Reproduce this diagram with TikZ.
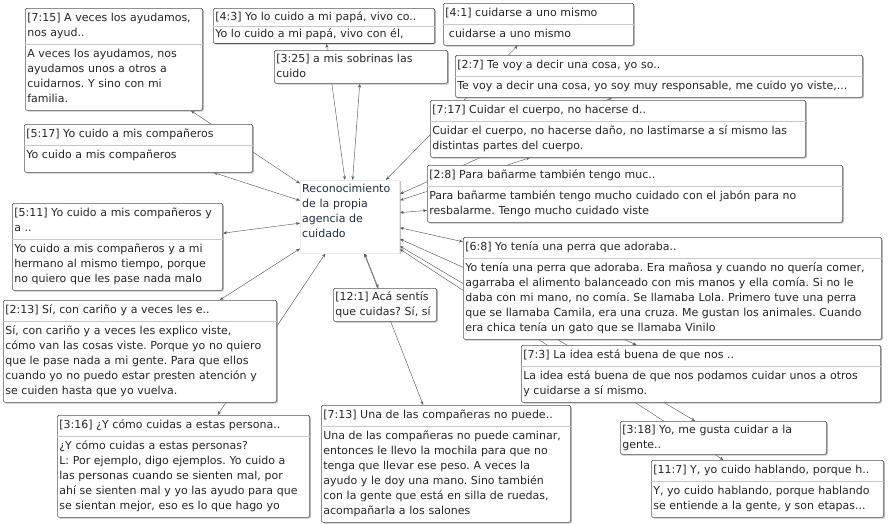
\documentclass[tikz,border=0pt]{standalone}
\usepackage{fontspec}
\setmainfont{DejaVu Sans}[WordSpace=1.1]
\usetikzlibrary{shapes.multipart, shadows, backgrounds, arrows.meta}

\definecolor{boxline}{RGB}{85,85,85}
\definecolor{splitline}{RGB}{200,200,200}
\definecolor{codetext}{RGB}{35,45,75}
\newcommand{\qfont}{\fontsize{11}{15}\selectfont\frenchspacing}
\newcommand{\qsplit}{\strut\nodepart{two}\strut}

\tikzset{
    quote/.style={rectangle split, rectangle split parts=2, rectangle split draw splits=false,
        draw=boxline, line width=0.6pt, rounded corners=1.5pt, fill=white,
        drop shadow={shadow xshift=1.2pt, shadow yshift=-1.2pt, fill=black!40, opacity=0.6},
        anchor=north west, align=left, text width=#1-4.6, inner xsep=2pt, inner ysep=2.7pt,
        font=\qfont, text=black!85, execute at begin node=\strut, execute at end node=\strut},
    note/.style={quote=#1, rectangle, inner ysep=1.5pt},
    code/.style={rectangle, fill=white, draw=black!8,
        drop shadow={shadow xshift=1.2pt, shadow yshift=-1.2pt, fill=black!40, opacity=0.6},
        anchor=north west, align=left, text width=95.4, inner xsep=2pt, inner ysep=2.2pt,
        font=\qfont, text=codetext, execute at begin node=\strut, execute at end node=\strut},
    link/.style={{Stealth[length=4pt,width=3pt]}-{Stealth[length=4pt,width=3pt]}, draw=black!65, line width=0.45pt},
    divider/.style={draw=splitline, line width=0.6pt}
}

\begin{document}
\begin{tikzpicture}[x=1pt, y=-1pt]
    \useasboundingbox (0,0) rectangle (888,523);

    % the code
    \node[code] (rec) at (300,180) {Reconocimiento\\de la propia\\agencia de\\cuidado\rule[-13pt]{0pt}{0pt}};

    % quotations
    \node[quote=178] (q715) at (25,8) {[7:15] A veces los ayudamos,\\nos ayud..\qsplit A veces los ayudamos, nos\\ayudamos unos a otros a\\cuidarnos. Y sino con mi\\familia.};
    \node[quote=222, inner ysep=1pt] (q43) at (213,8) {[4:3] Yo lo cuido a mi papá, vivo co..\qsplit Yo lo cuido a mi papá, vivo con él,};
    \node[quote=191] (q41) at (443,3) {[4:1] cuidarse a uno mismo\qsplit\ cuidarse a uno mismo};
    \node[note=174] (q325) at (274,50) {[3:25] a mis sobrinas las\\cuido};
    \node[quote=408] (q27) at (455,55) {[2:7] Te voy a decir una cosa, yo so..\qsplit Te voy a decir una cosa, yo soy muy responsable, me cuido yo viste,...};
    \node[quote=376] (q717) at (430,100) {[7:17] Cuidar el cuerpo, no hacerse d..\qsplit Cuidar el cuerpo, no hacerse daño, no lastimarse a sí mismo las\\distintas partes del cuerpo.};
    \node[quote=229] (q517) at (24,124) {[5:17] Yo cuido a mis compañeros\qsplit Yo cuido a mis compañeros\rule[-10.5pt]{0pt}{0pt}};
    \node[quote=416] (q28) at (427,165) {[2:8] Para bañarme también tengo muc..\qsplit Para bañarme también tengo mucho cuidado con el jabón para no\\resbalarme. Tengo mucho cuidado viste};
    \node[quote=211] (q511) at (12,203) {[5:11] Yo cuido a mis compañeros y\\a ..\qsplit Yo cuido a mis compañeros y a mi\\hermano al mismo tiempo, porque\\no quiero que les pase nada malo};
    \node[quote=419] (q68) at (463,237) {[6:8] Yo tenía una perra que adoraba..\qsplit Yo tenía una perra que adoraba. Era mañosa y cuando no quería comer,\\agarraba el alimento balanceado con mis manos y ella comía. Si no le\\daba con mi mano, no comía. Se llamaba Lola. Primero tuve una perra\\que se llamaba Camila, era una cruza. Me gustan los animales. Cuando\\era chica tenía un gato que se llamaba Vinilo};
    \node[note=104] (q121) at (333,288) {[12:1] Acá sentís\\que cuidas? Sí, sí};
    \node[quote=274] (q213) at (3,300) {[2:13] Sí, con cariño y a veces les e..\qsplit Sí, con cariño y a veces les explico viste,\\cómo van las cosas viste. Porque yo no quiero\\que le pase nada a mi gente. Para que ellos\\cuando yo no puedo estar presten atención y\\se cuiden hasta que yo vuelva.};
    \node[quote=360] (q73) at (521,345) {[7:3] La idea está buena de que nos ..\qsplit La idea está buena de que nos podamos cuidar unos a otros\\y cuidarse a sí mismo.};
    \node[quote=253] (q316) at (57,415) {[3:16] ¿Y cómo cuidas a estas persona..\qsplit ¿Y cómo cuidas a estas personas?\\L: Por ejemplo, digo ejemplos. Yo cuido a\\las personas cuando se sienten mal, por\\ahí se sienten mal y yo las ayudo para que\\se sientan mejor, eso es lo que hago yo};
    \node[quote=250] (q713) at (321,405) {[7:13] Una de las compañeras no puede..\qsplit Una de las compañeras no puede caminar,\\entonces le llevo la mochila para que no\\tenga que llevar ese peso. A veces la\\ayudo y le doy una mano. Sino también\\con la gente que está en silla de ruedas,\\acompañarla a los salones};
    \node[note=207] (q318) at (620,421) {[3:18] Yo, me gusta cuidar a la\\gente..};
    \node[quote=233] (q117) at (651,460) {[11:7] Y, yo cuido hablando, porque h..\qsplit Y, yo cuido hablando, porque hablando\\se entiende a la gente, y son etapas...};

    % header dividers
    \foreach \q in {q715, q43, q41, q27, q717, q517, q28, q511, q68, q213, q73, q316, q713, q117} {
        \draw[divider] ([xshift=0.3pt]\q.text split west) -- ([xshift=-0.3pt]\q.text split east);
    }

    % links from the code to every quotation
    \begin{scope}[on background layer]
        \foreach \q in {q715, q43, q41, q325, q27, q717, q517, q28, q511, q68, q121, q213, q73, q316, q713, q318, q117} {
            \draw[link] (rec) -- (\q);
        }
    \end{scope}
\end{tikzpicture}
\end{document}
